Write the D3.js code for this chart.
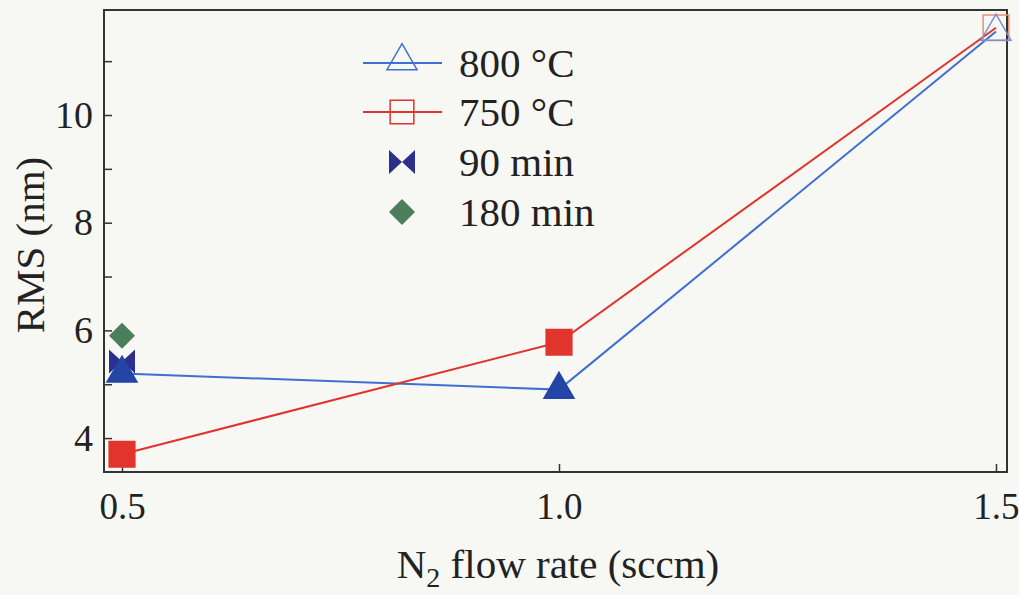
<!DOCTYPE html>
<html>
<head>
<meta charset="utf-8">
<script src="https://cdn.jsdelivr.net/npm/d3@7"></script>
<style>
  body { margin: 0; background: #f7f7f4; }
  svg { display: block; }
  text { font-family: "Liberation Serif", "DejaVu Serif", serif; fill: #222; }
</style>
</head>
<body>
<svg id="chart"></svg>
<script>
// data
var flowRates = [0.5, 1.0, 1.5];
var rms800 = [5.2, 4.9, 11.55];
var rms750 = [3.7, 5.78, 11.62];
var rms90min = [{x: 0.5, y: 5.42}];
var rms180min = [{x: 0.5, y: 5.9}];
var xTicks = [0.5, 1.0, 1.5];
var yTicks = [4, 5, 6, 7, 8, 9, 10, 11];
var yLabels = [4, 6, 8, 10];

var W = 1019, H = 595;
var box = { left: 104, right: 1007, top: 10, bottom: 472 };

var svg = d3.select("#chart").attr("width", W).attr("height", H);

var x = d3.scaleLinear().domain([0.4794, 1.5126]).range([box.left, box.right]);
var y = d3.scaleLinear().domain([3.37, 11.95]).range([box.bottom, box.top]);

var blue = "#3f6fd0", blueFill = "#2245a6", red = "#e0342c", navy = "#2d2f8c", green = "#4c7e5c";

// axes, ticks pointing inward
var xAxis = d3.axisBottom(x).tickValues(xTicks).tickSize(-8).tickPadding(21)
    .tickFormat(d3.format(".1f"));
var yAxis = d3.axisLeft(y).tickValues(yTicks).tickSize(-8).tickPadding(11)
    .tickFormat(function(d){ return yLabels.indexOf(d) >= 0 ? d : ""; });

var gx = svg.append("g").attr("transform", "translate(0," + box.bottom + ")").call(xAxis);
var gy = svg.append("g").attr("transform", "translate(" + box.left + ",0)").call(yAxis);
[gx, gy].forEach(function(g){
  g.select(".domain").remove();
  g.selectAll(".tick line").attr("stroke", "#333").attr("stroke-width", 1.5);
  g.selectAll(".tick text").style("font-size", "38px").attr("fill", "#222");
});
gx.selectAll(".tick text").attr("dy", "0.71em").style("font-size", "37px");

// frame
svg.append("rect").attr("x", box.left).attr("y", box.top)
  .attr("width", box.right - box.left).attr("height", box.bottom - box.top)
  .attr("fill", "none").attr("stroke", "#333").attr("stroke-width", 2);

// axis titles
svg.append("text").attr("transform", "translate(44," + 245 + ") rotate(-90)")
  .attr("text-anchor", "middle").style("font-size", "41px").text("RMS (nm)");
var xt = svg.append("text").attr("x", 558).attr("y", 578).attr("text-anchor", "middle").style("font-size", "41px");
xt.append("tspan").text("N");
xt.append("tspan").attr("dy", 9).style("font-size", "28px").text("2");
xt.append("tspan").attr("dy", -9).text(" flow rate (sccm)");

var line = d3.line().x(function(d){ return x(d[0]); }).y(function(d){ return y(d[1]); });
var pts800 = flowRates.map(function(f, i){ return [f, rms800[i]]; });
var pts750 = flowRates.map(function(f, i){ return [f, rms750[i]]; });

svg.append("path").attr("d", line(pts800)).attr("fill", "none").attr("stroke", blue).attr("stroke-width", 2);
svg.append("path").attr("d", line(pts750)).attr("fill", "none").attr("stroke", red).attr("stroke-width", 2);

var tri = d3.symbol().type(d3.symbolTriangle).size(390);
var sq = d3.symbol().type(d3.symbolSquare).size(660);
function diamond(r) {
  return "M0," + (-r) + "L" + r + ",0L0," + r + "L" + (-r) + ",0Z";
}
function bowtie(w, h) {
  return "M" + (-w) + "," + (-h) + "L0,0L" + (-w) + "," + h + "Z M" + w + "," + (-h) + "L0,0L" + w + "," + h + "Z";
}

// last point (1.5 sccm) is drawn hollow in the reference
svg.selectAll(".sq").data(pts750).enter().append("path")
  .attr("transform", function(d){ return "translate(" + x(d[0]) + "," + y(d[1]) + ")"; })
  .attr("d", sq)
  .attr("fill", function(d, i){ return i === 2 ? "none" : red; })
  .attr("stroke", function(d, i){ return i === 2 ? "#e8906e" : red; })
  .attr("stroke-width", 1.5);

svg.selectAll(".bt").data(rms90min).enter().append("path")
  .attr("transform", function(d){ return "translate(" + x(d.x) + "," + y(d.y) + ")"; })
  .attr("d", bowtie(13, 12)).attr("fill", navy);

svg.selectAll(".tri").data(pts800).enter().append("path")
  .attr("transform", function(d){ return "translate(" + x(d[0]) + "," + y(d[1]) + ")"; })
  .attr("d", tri)
  .attr("fill", function(d, i){ return i === 2 ? "none" : blueFill; })
  .attr("stroke", function(d, i){ return i === 2 ? "#7890d8" : blueFill; })
  .attr("stroke-width", 1.5);

svg.selectAll(".dia").data(rms180min).enter().append("path")
  .attr("transform", function(d){ return "translate(" + x(d.x) + "," + y(d.y) + ")"; })
  .attr("d", diamond(13)).attr("fill", green);

// legend
var lg = svg.append("g");
var rows = [
  { label: "800 °C", yy: 63 },
  { label: "750 °C", yy: 112 },
  { label: "90 min", yy: 162 },
  { label: "180 min", yy: 212 }
];
lg.append("line").attr("x1", 363).attr("x2", 442).attr("y1", rows[0].yy).attr("y2", rows[0].yy).attr("stroke", blue).attr("stroke-width", 2);
lg.append("path").attr("transform", "translate(402," + (rows[0].yy - 2) + ")").attr("d", tri).attr("fill", "none").attr("stroke", blue).attr("stroke-width", 1.5);
lg.append("line").attr("x1", 363).attr("x2", 442).attr("y1", rows[1].yy).attr("y2", rows[1].yy).attr("stroke", red).attr("stroke-width", 2);
lg.append("path").attr("transform", "translate(402," + rows[1].yy + ")").attr("d", d3.symbol().type(d3.symbolSquare).size(560)).attr("fill", "none").attr("stroke", red).attr("stroke-width", 1.5);
lg.append("path").attr("transform", "translate(402," + rows[2].yy + ")").attr("d", bowtie(13, 12)).attr("fill", navy);
lg.append("path").attr("transform", "translate(402," + rows[3].yy + ")").attr("d", diamond(13)).attr("fill", green);
lg.selectAll("text").data(rows).enter().append("text")
  .attr("x", 459).attr("y", function(d){ return d.yy + 14; })
  .style("font-size", "41px").text(function(d){ return d.label; });
</script>
</body>
</html>
